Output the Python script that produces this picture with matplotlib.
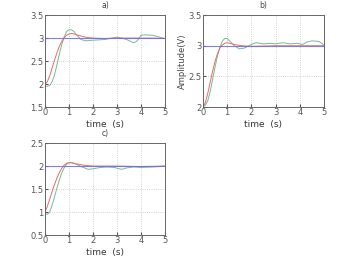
import matplotlib
matplotlib.use("Agg")
import matplotlib.pyplot as plt

# panel a
ta_red = [0, 0.1, 0.2, 0.3, 0.4, 0.5, 0.6, 0.7, 0.8, 0.9, 1.0, 1.1, 1.2, 1.4, 1.6, 1.8, 2.0, 2.5, 3.0, 3.5, 4.0, 4.5, 5.0]
a_red = [2.0, 2.05, 2.18, 2.35, 2.52, 2.68, 2.82, 2.93, 3.01, 3.06, 3.09, 3.1, 3.09, 3.06, 3.03, 3.01, 3.0, 2.99, 3.0, 3.0, 3.0, 3.0, 2.99]
ta_green = [0, 0.1, 0.2, 0.3, 0.4, 0.5, 0.6, 0.7, 0.8, 0.9, 1.0, 1.1, 1.2, 1.3, 1.5, 1.7, 1.9, 2.2, 2.5, 2.8, 3.0, 3.2, 3.4, 3.6, 3.7, 3.8, 3.9, 4.0, 4.2, 4.5, 4.7, 5.0]
a_green = [1.95, 1.95, 1.97, 2.05, 2.2, 2.42, 2.65, 2.86, 3.02, 3.14, 3.18, 3.18, 3.15, 3.08, 2.97, 2.94, 2.95, 2.96, 2.97, 3.0, 3.02, 3.0, 2.97, 2.92, 2.9, 2.92, 2.98, 3.06, 3.07, 3.06, 3.03, 2.99]

# panel b
tb_red = [0, 0.1, 0.2, 0.3, 0.4, 0.5, 0.6, 0.7, 0.8, 0.9, 1.0, 1.1, 1.3, 1.6, 2.0, 3.0, 4.0, 5.0]
b_red = [2.0, 2.07, 2.22, 2.4, 2.58, 2.74, 2.87, 2.96, 3.01, 3.04, 3.05, 3.04, 3.02, 3.0, 2.99, 3.0, 3.0, 3.0]
tb_green = [0, 0.1, 0.2, 0.3, 0.4, 0.5, 0.6, 0.7, 0.8, 0.9, 1.0, 1.1, 1.3, 1.5, 1.7, 2.0, 2.2, 2.5, 2.8, 3.0, 3.3, 3.6, 3.9, 4.1, 4.3, 4.5, 4.8, 5.0]
b_green = [2.0, 2.03, 2.1, 2.25, 2.45, 2.65, 2.83, 2.97, 3.07, 3.12, 3.12, 3.08, 3.0, 2.95, 2.96, 3.02, 3.05, 3.03, 3.04, 3.03, 3.05, 3.03, 3.04, 3.02, 3.06, 3.08, 3.07, 3.01]

# panel c
tc_red = [0, 0.1, 0.2, 0.3, 0.4, 0.5, 0.6, 0.7, 0.8, 0.9, 1.0, 1.1, 1.3, 1.6, 2.0, 3.0, 4.0, 5.0]
c_red = [1.0, 1.12, 1.28, 1.45, 1.6, 1.74, 1.86, 1.95, 2.02, 2.06, 2.07, 2.07, 2.05, 2.02, 2.0, 2.0, 1.99, 2.0]
tc_green = [0, 0.1, 0.2, 0.3, 0.4, 0.5, 0.6, 0.7, 0.8, 0.9, 1.0, 1.1, 1.3, 1.5, 1.8, 2.0, 2.3, 2.6, 2.9, 3.1, 3.2, 3.4, 3.7, 4.0, 4.5, 5.0]
c_green = [0.97, 0.95, 1.0, 1.15, 1.33, 1.52, 1.7, 1.85, 1.96, 2.04, 2.08, 2.08, 2.04, 1.99, 1.93, 1.94, 1.97, 1.98, 1.97, 1.94, 1.93, 1.96, 1.98, 1.97, 1.98, 2.0]

refs = [3.0, 3.0, 2.0]
titles = ["a)", "b)", "c)"]
ylims = [(1.5, 3.5), (2.0, 3.5), (0.5, 2.5)]
yticks = [[1.5, 2, 2.5, 3, 3.5], [2, 2.5, 3, 3.5], [0.5, 1, 1.5, 2, 2.5]]
yticklabels = [["1.5", "2", "2.5", "3", "3.5"], ["2", "2.5", "3", "3.5"], ["0.5", "1", "1.5", "2", "2.5"]]

series = [(ta_red, a_red, ta_green, a_green),
          (tb_red, b_red, tb_green, b_green),
          (tc_red, c_red, tc_green, c_green)]

boxes = [[0.128, 0.582, 0.342, 0.359],
         [0.578, 0.582, 0.345, 0.359],
         [0.128, 0.082, 0.342, 0.359]]

fig = plt.figure(figsize=(3.51, 2.56), dpi=100)
for i in range(3):
    ax = fig.add_axes(boxes[i])
    tr, yr, tg, yg = series[i]
    ax.plot(tg, yg, color="#6fbf8f", lw=0.7)
    ax.plot(tr, yr, color="#f06868", lw=0.7)
    ax.plot([0, 5], [refs[i], refs[i]], color="#6b6bf0", lw=0.8, alpha=0.85)
    ax.set_xlim(0, 5)
    ax.set_ylim(*ylims[i])
    ax.set_xticks([0, 1, 2, 3, 4, 5])
    ax.set_yticks(yticks[i])
    ax.set_yticklabels(yticklabels[i])
    ax.grid(True, color="#c4c4c4", ls=":", lw=0.6)
    ax.tick_params(direction="in", length=2, labelsize=6, pad=1, colors="#555555")
    for s in ax.spines.values():
        s.set_color("#666666")
        s.set_linewidth(0.7)
    ax.set_title(titles[i], fontsize=5.5, pad=5, color="#444444")
    ax.set_xlabel("time  (s)", fontsize=6.5, labelpad=2, color="#333333")
    if i == 1:
        ax.set_ylabel("Amplitude(V)", fontsize=6, labelpad=1, color="#444444")

fig.savefig("out.png", dpi=100, facecolor="white")
